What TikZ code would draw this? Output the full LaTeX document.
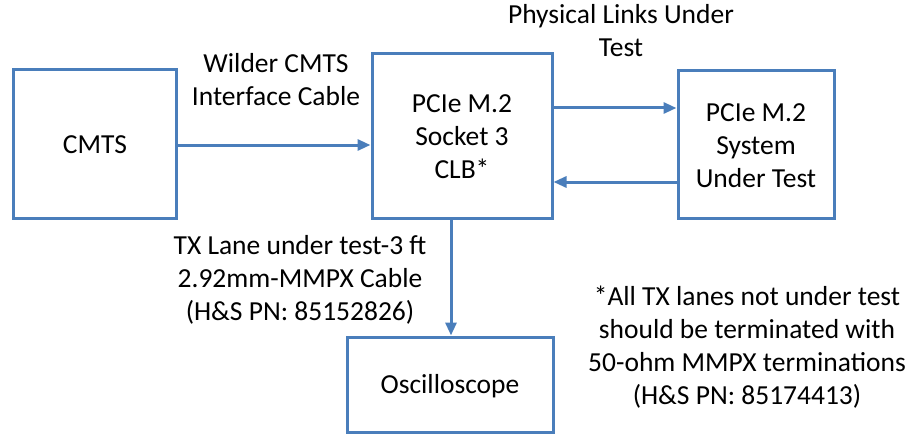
\documentclass[tikz,border=0pt]{standalone}
\usepackage{fontspec}
\setmainfont{Carlito}
\usetikzlibrary{arrows.meta}
\definecolor{lineblue}{RGB}{74,126,187}
\begin{document}
\begin{tikzpicture}[x=1pt,y=-1pt,
  box/.style={draw=lineblue,line width=3pt,minimum width=#1,inner sep=0pt},
  lbl/.style={align=center,inner sep=0pt,font=\fontsize{27.5}{33}\selectfont},
  arr/.style={draw=lineblue,line width=3pt,-{Triangle[length=13pt,width=11pt]}}]
\useasboundingbox (0,0) rectangle (911,436);
\node[box=163pt,minimum height=148pt] (cmts) at (94.5,144) {};
\node[box=180pt,minimum height=164pt] (clb) at (462,136) {};
\node[box=156pt,minimum height=147pt] (sut) at (756,144.5) {};
\node[box=206pt,minimum height=95pt] (osc) at (450,384.5) {};
\node[lbl] (tcmts) at (95,145) {CMTS};
\node[lbl] (tclb) at (462,137) {PCIe M.2\\Socket 3\\CLB*};
\node[lbl] (tsut) at (756,146) {PCIe M.2\\System\\Under Test};
\node[lbl] (tosc) at (450,386) {Oscilloscope};
\node[lbl] (lwild) at (276,80) {Wilder CMTS\\Interface Cable};
\node[lbl] (lphys) at (621,31) {Physical Links Under\\Test};
\node[lbl] (ltx) at (300,280) {TX Lane under test-3 ft\\2.92mm-MMPX Cable\\(H\&S PN: 85152826)};
\node[lbl] (lnote) at (747,347) {*All TX lanes not under test\\should be terminated with\\50-ohm MMPX terminations\\(H\&S PN: 85174413)};
\draw[arr] (cmts.east |- 0,145) -- (clb.west |- 0,145);
\draw[arr] (clb.east |- 0,108) -- (sut.west |- 0,108);
\draw[arr] (sut.west |- 0,182) -- (clb.east |- 0,182);
\draw[arr] (clb.south -| 451,0) -- (osc.north -| 451,0);
\end{tikzpicture}
\end{document}
